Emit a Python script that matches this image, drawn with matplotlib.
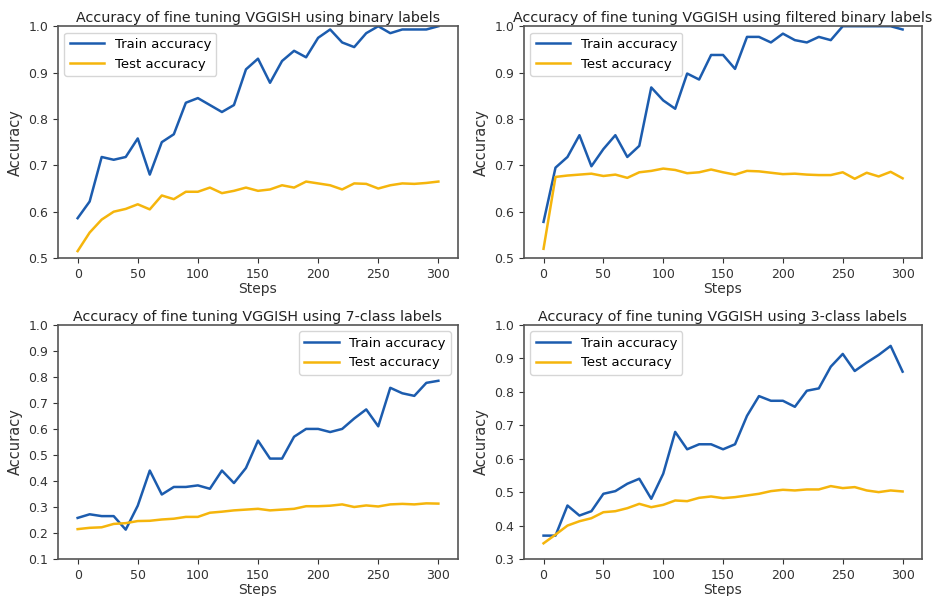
import numpy as np
import matplotlib
matplotlib.use("Agg")
from matplotlib import pyplot as plt

steps = np.arange(0, 301, 10)

# binary labels
bin_train = [0.586, 0.622, 0.718, 0.712, 0.718, 0.758, 0.680, 0.750, 0.767, 0.835, 0.845,
             0.830, 0.815, 0.830, 0.907, 0.930, 0.878, 0.925, 0.947, 0.933, 0.975,
             0.993, 0.965, 0.955, 0.985, 1.000, 0.985, 0.993, 0.993, 0.993, 1.000]
bin_test = [0.515, 0.555, 0.583, 0.600, 0.606, 0.616, 0.605, 0.635, 0.627, 0.643, 0.643,
            0.652, 0.640, 0.645, 0.652, 0.645, 0.648, 0.657, 0.652, 0.665, 0.661,
            0.657, 0.648, 0.661, 0.660, 0.650, 0.657, 0.661, 0.660, 0.662, 0.665]

# filtered binary labels
fbin_train = [0.578, 0.695, 0.718, 0.765, 0.698, 0.735, 0.765, 0.718, 0.742, 0.868, 0.840,
              0.822, 0.898, 0.885, 0.938, 0.938, 0.908, 0.977, 0.977, 0.965, 0.984,
              0.970, 0.965, 0.977, 0.970, 1.000, 1.000, 1.000, 1.000, 1.000, 0.993]
fbin_test = [0.520, 0.675, 0.678, 0.680, 0.682, 0.677, 0.680, 0.673, 0.685, 0.688, 0.693,
             0.690, 0.683, 0.685, 0.691, 0.685, 0.680, 0.688, 0.687, 0.684, 0.681,
             0.682, 0.680, 0.679, 0.679, 0.685, 0.671, 0.684, 0.676, 0.686, 0.672]

# 7-class labels
c7_train = [0.258, 0.272, 0.265, 0.265, 0.213, 0.305, 0.440, 0.348, 0.377, 0.377, 0.383,
            0.370, 0.440, 0.392, 0.450, 0.555, 0.486, 0.486, 0.570, 0.600, 0.600,
            0.588, 0.600, 0.640, 0.675, 0.610, 0.758, 0.737, 0.727, 0.777, 0.785]
c7_test = [0.215, 0.220, 0.222, 0.235, 0.238, 0.246, 0.247, 0.252, 0.255, 0.262, 0.262,
           0.278, 0.282, 0.287, 0.290, 0.293, 0.287, 0.290, 0.293, 0.303, 0.303,
           0.305, 0.310, 0.300, 0.306, 0.302, 0.310, 0.312, 0.310, 0.314, 0.313]

# 3-class labels
c3_train = [0.370, 0.370, 0.460, 0.430, 0.443, 0.495, 0.503, 0.525, 0.540, 0.480, 0.555,
            0.680, 0.628, 0.643, 0.643, 0.628, 0.643, 0.728, 0.787, 0.773, 0.773,
            0.755, 0.803, 0.810, 0.875, 0.913, 0.862, 0.887, 0.910, 0.937, 0.860]
c3_test = [0.347, 0.373, 0.400, 0.413, 0.422, 0.440, 0.443, 0.452, 0.465, 0.455, 0.462,
           0.475, 0.473, 0.483, 0.487, 0.482, 0.485, 0.490, 0.495, 0.503, 0.507,
           0.505, 0.508, 0.508, 0.518, 0.512, 0.515, 0.505, 0.500, 0.505, 0.502]

titles = ["Accuracy of fine tuning VGGISH using binary labels",
          "Accuracy of fine tuning VGGISH using filtered binary labels",
          "Accuracy of fine tuning VGGISH using 7-class labels",
          "Accuracy of fine tuning VGGISH using 3-class labels"]
trains = [bin_train, fbin_train, c7_train, c3_train]
tests = [bin_test, fbin_test, c7_test, c3_test]
ylims = [(0.5, 1.0), (0.5, 1.0), (0.1, 1.0), (0.3, 1.0)]
legend_loc = ["upper left", "upper left", "upper right", "upper left"]

# axes boxes in figure fraction
boxes = [[0.062, 0.567, 0.429, 0.389],
         [0.562, 0.567, 0.427, 0.389],
         [0.062, 0.062, 0.429, 0.393],
         [0.562, 0.062, 0.427, 0.393]]

blue = "#1c5cae"
yellow = "#f5b50c"

fig = plt.figure(figsize=(9.32, 5.96), dpi=100)
for i in range(4):
    ax = fig.add_axes(boxes[i])
    ax.plot(steps, trains[i], color=blue, lw=1.8, label="Train accuracy")
    ax.plot(steps, tests[i], color=yellow, lw=1.8, label="Test accuracy")
    ax.set_title(titles[i], fontsize=10.3, color="#222222", pad=3)
    ax.set_xlabel("Steps", fontsize=10, color="#333333", labelpad=1)
    ax.set_ylabel("Accuracy", fontsize=10.5, color="#333333")
    ax.set_ylim(ylims[i])
    ax.set_yticks(np.arange(ylims[i][0], 1.001, 0.1))
    ax.set_xticks([0, 50, 100, 150, 200, 250, 300])
    ax.set_xlim(-16.5, 316)
    ax.tick_params(labelsize=9, colors="#333333")
    for s in ax.spines.values():
        s.set_color("#555555")
        s.set_linewidth(1.2)
    ax.legend(loc=legend_loc[i], fontsize=9.5, handlelength=2.6)

fig.savefig("out.png", dpi=100)
